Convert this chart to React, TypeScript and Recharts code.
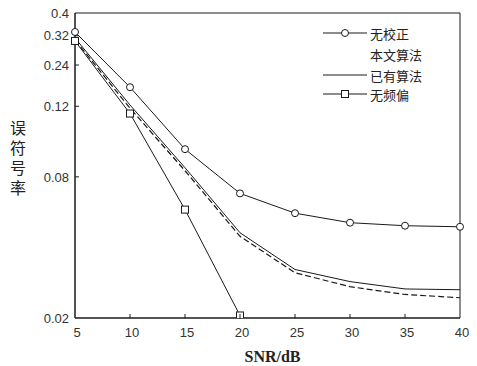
import React from 'react';
import { LineChart, Line, XAxis, YAxis, Legend, ReferenceArea } from 'recharts';

const snr = [5, 10, 15, 20, 25, 30, 35, 40];
const noCorrection = [0.332, 0.193, 0.105, 0.068, 0.056, 0.051, 0.0495, 0.049];
const proposed = [0.307, 0.157, 0.085, 0.0446, 0.0312, 0.0272, 0.0252, 0.0244];
const existing = [0.313, 0.162, 0.0875, 0.0462, 0.0322, 0.0286, 0.0266, 0.0264];
const noOffset: (number | null)[] = [0.304, 0.149, 0.058, 0.0205, null, null, null, null];

const xTicks = [5, 10, 15, 20, 25, 30, 35, 40];
const yTickValues = [0.4, 0.32, 0.24, 0.16, 0.08, 0.02];
const yTickLabels = ['0.4', '0.32', '0.24', '0.12', '0.08', '0.02'];

const seriesNames = ['无校正', '本文算法', '已有算法', '无频偏'];
const yLabel = '误符号率';
const xLabel = 'SNR/dB';

const data = snr.map((s, i) => ({
  snr: s,
  noCorrection: noCorrection[i],
  proposed: proposed[i],
  existing: existing[i],
  noOffset: noOffset[i],
}));

const INK = '#1a1a1a';
const TICK_MARGIN = 10;
const FONT = 'Liberation Sans, Arial, sans-serif';
const CJK = '"Noto Sans CJK SC", sans-serif';

const XTick = (props: any) => {
  const { x, y, payload } = props;
  const axisY = y - TICK_MARGIN;
  return (
    <g>
      {payload.value !== 5 && payload.value !== 40 && (
        <line x1={x} x2={x} y1={axisY} y2={axisY - 4} stroke={INK} strokeWidth={1} />
      )}
      <text x={x + 2} y={y} dy="0.71em" textAnchor="middle" fontSize={13} fontFamily={FONT} fill="#333">
        {payload.value}
      </text>
    </g>
  );
};

const YTick = (props: any) => {
  const { x, y, payload } = props;
  const axisX = x + 6;
  const idx = yTickValues.indexOf(payload.value);
  return (
    <g>
      {idx > 0 && idx < yTickValues.length - 1 && (
        <line x1={axisX} x2={axisX + 4} y1={y} y2={y} stroke={INK} strokeWidth={1} />
      )}
      <text x={x} y={y} dy="0.36em" textAnchor="end" fontSize={13} fontFamily={FONT} fill="#333">
        {idx >= 0 ? yTickLabels[idx] : ''}
      </text>
    </g>
  );
};

const YAxisLabel = (props: any) => {
  const vb = props.viewBox || { x: 0, y: 13, width: 75, height: 305 };
  const cx = vb.x + 18;
  const cy = vb.y + vb.height / 2 - 6;
  return (
    <text
      x={cx}
      y={cy}
      fontSize={16}
      fontFamily={CJK}
      fill="#222"
      textAnchor="middle"
      style={{ writingMode: 'vertical-rl', letterSpacing: 4 } as any}
    >
      {yLabel}
    </text>
  );
};

const XAxisLabel = (props: any) => {
  const vb = props.viewBox || { x: 75, y: 318, width: 385, height: 47 };
  return (
    <text
      x={vb.x + vb.width / 2 + 5}
      y={vb.y + 38}
      textAnchor="middle"
      dominantBaseline="central"
      fontSize={16}
      fontWeight="bold"
      fontFamily="Liberation Serif, serif"
      fill="#222"
    >
      {xLabel}
    </text>
  );
};

const SquareDot = (props: any) => {
  const { cx, cy, index } = props;
  if (cx == null || cy == null || !isFinite(cy)) return <g key={`sq-${index}`} />;
  return (
    <rect key={`sq-${index}`} x={cx - 3.5} y={cy - 3.5} width={7} height={7} fill="#fff" stroke={INK} strokeWidth={1} />
  );
};

const renderLegend = () => {
  const rows = [
    { name: seriesNames[0], line: 'solid', marker: 'circle' },
    { name: seriesNames[1], line: 'none', marker: 'none' },
    { name: seriesNames[2], line: 'solid', marker: 'none' },
    { name: seriesNames[3], line: 'solid', marker: 'square' },
  ];
  const ys = [13, 34, 55, 74];
  return (
    <svg width={150} height={90} style={{ display: 'block' }}>
      {rows.map((r, i) => (
        <g key={r.name}>
          {r.line !== 'none' && <line x1={5} x2={49} y1={ys[i]} y2={ys[i]} stroke={INK} strokeWidth={1} />}
          {r.marker === 'circle' && <circle cx={27} cy={ys[i]} r={3.5} fill="#fff" stroke={INK} strokeWidth={1} />}
          {r.marker === 'square' && (
            <rect x={23.5} y={ys[i] - 3.5} width={7} height={7} fill="#fff" stroke={INK} strokeWidth={1} />
          )}
          <text x={52} y={ys[i]} dominantBaseline="central" fontSize={13} fontFamily={CJK} fill="#222">
            {r.name}
          </text>
        </g>
      ))}
    </svg>
  );
};

export default function App() {
  return (
    <div style={{ position: 'absolute', left: 0, top: 0, background: '#fff' }}>
      <LineChart width={477} height={366} data={data} margin={{ top: 13, right: 17, bottom: 1, left: 0 }}>
        <XAxis
          dataKey="snr"
          type="number"
          domain={[5, 40]}
          ticks={xTicks}
          interval={0}
          height={47}
          tickSize={0}
          tickMargin={TICK_MARGIN}
          tick={<XTick />}
          axisLine={{ stroke: INK }}
          label={<XAxisLabel />}
        />
        <YAxis
          type="number"
          scale="log"
          domain={[0.02, 0.4]}
          allowDataOverflow
          ticks={yTickValues}
          interval={0}
          width={75}
          tickSize={0}
          tickMargin={6}
          tick={<YTick />}
          axisLine={{ stroke: INK }}
          label={<YAxisLabel />}
        />
        <ReferenceArea x1={5} x2={40} y1={0.02} y2={0.4} fill="none" stroke={INK} strokeWidth={1} />
        <Legend
          layout="horizontal"
          verticalAlign="middle"
          align="center"
          content={renderLegend}
          wrapperStyle={{ left: 318, top: 20, width: 150, height: 90, bottom: 'auto', right: 'auto' }}
        />
        <Line
          type="linear"
          dataKey="noCorrection"
          name={seriesNames[0]}
          stroke={INK}
          strokeWidth={1}
          dot={{ r: 3.5, fill: '#fff', stroke: INK, strokeWidth: 1 }}
          isAnimationActive={false}
        />
        <Line
          type="linear"
          dataKey="proposed"
          name={seriesNames[1]}
          stroke={INK}
          strokeWidth={1.2}
          strokeDasharray="6 3"
          dot={false}
          isAnimationActive={false}
        />
        <Line
          type="linear"
          dataKey="existing"
          name={seriesNames[2]}
          stroke={INK}
          strokeWidth={1}
          dot={false}
          isAnimationActive={false}
        />
        <Line
          type="linear"
          dataKey="noOffset"
          name={seriesNames[3]}
          stroke={INK}
          strokeWidth={1}
          dot={<SquareDot />}
          connectNulls={false}
          isAnimationActive={false}
        />
      </LineChart>
    </div>
  );
}
